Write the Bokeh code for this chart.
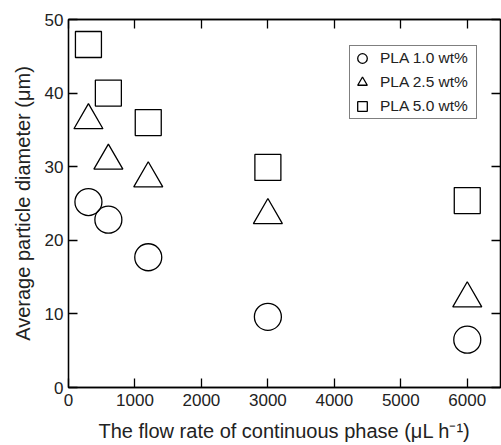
from bokeh.plotting import figure
from bokeh.models import LinearAxis, Legend, LegendItem, FixedTicker, Range1d
from bokeh.embed import file_html
from bokeh.resources import INLINE

flow_rate = [300, 600, 1200, 3000, 6000]
pla_10 = [25.2, 22.8, 17.7, 9.6, 6.5]
pla_25 = [36.3, 30.8, 28.4, 23.4, 12.1]
pla_50 = [46.6, 40.0, 36.0, 29.9, 25.4]
x_ticks = [0, 1000, 2000, 3000, 4000, 5000, 6000]
y_ticks = [0, 10, 20, 30, 40, 50]

FONT = "Liberation Sans"

p = figure(width=501, height=445, output_backend="svg", toolbar_location=None,
           x_range=Range1d(0, 6500), y_range=Range1d(0, 50),
           min_border_left=68, min_border_right=1, min_border_top=19, min_border_bottom=58,
           x_axis_location=None, y_axis_location=None)
p.grid.visible = False
p.outline_line_color = "black"
p.outline_line_width = 1.3
p.background_fill_color = "white"
p.border_fill_color = "white"

def style_axis(ax, labels=True):
    ax.major_tick_in = 9
    ax.major_tick_out = 0
    ax.minor_tick_line_color = None
    ax.major_tick_line_color = "black"
    ax.major_tick_line_width = 1.3
    ax.axis_line_color = "black"
    ax.axis_line_width = 1.3
    ax.major_label_text_font = FONT
    ax.major_label_text_font_size = "17px"
    ax.major_label_text_color = "#222222" if labels else None
    ax.axis_label_text_font = FONT
    ax.axis_label_text_font_size = "20px"
    ax.axis_label_text_font_style = "normal"
    ax.axis_label_text_color = "#222222"

xb = LinearAxis(ticker=FixedTicker(ticks=x_ticks), axis_label="The flow rate of continuous phase (\u03bcL h\u207b\u00b9)")
style_axis(xb)
xb.major_label_standoff = 6
xb.axis_label_standoff = 11
p.add_layout(xb, "below")

yl = LinearAxis(ticker=FixedTicker(ticks=y_ticks), axis_label="Average particle diameter (\u03bcm)")
style_axis(yl)
yl.major_label_standoff = 5
yl.axis_label_standoff = 8
p.add_layout(yl, "left")

xt = LinearAxis(ticker=FixedTicker(ticks=x_ticks))
style_axis(xt, labels=False)
xt.major_label_text_font_size = "0px"
xt.major_label_standoff = 0
p.add_layout(xt, "above")

yr = LinearAxis(ticker=FixedTicker(ticks=y_ticks))
style_axis(yr, labels=False)
yr.major_label_text_font_size = "0px"
yr.major_label_standoff = 0
p.add_layout(yr, "right")

r1 = p.scatter(flow_rate, pla_10, marker="circle", size=27, fill_color=None,
               line_color="black", line_width=1.3)
r2 = p.scatter(flow_rate, pla_25, marker="triangle", size=29, fill_color=None,
               line_color="black", line_width=1.3)
r3 = p.scatter(flow_rate, pla_50, marker="square", size=26, fill_color=None,
               line_color="black", line_width=1.3)

legend = Legend(items=[LegendItem(label="PLA 1.0 wt%", renderers=[r1]),
                       LegendItem(label="PLA 2.5 wt%", renderers=[r2]),
                       LegendItem(label="PLA 5.0 wt%", renderers=[r3])],
                location=(281, 268))
legend.label_text_font = FONT
legend.label_text_font_size = "15.5px"
legend.label_text_color = "#222222"
legend.glyph_height = 24
legend.glyph_width = 24
legend.label_height = 18
legend.label_width = 96
legend.spacing = 0
legend.padding = 0
legend.margin = 0
legend.label_standoff = 6
legend.border_line_color = "black"
legend.border_line_width = 1.3
legend.background_fill_alpha = 1
p.add_layout(legend, "center")

open("out.html", "w").write(file_html(p, INLINE))
